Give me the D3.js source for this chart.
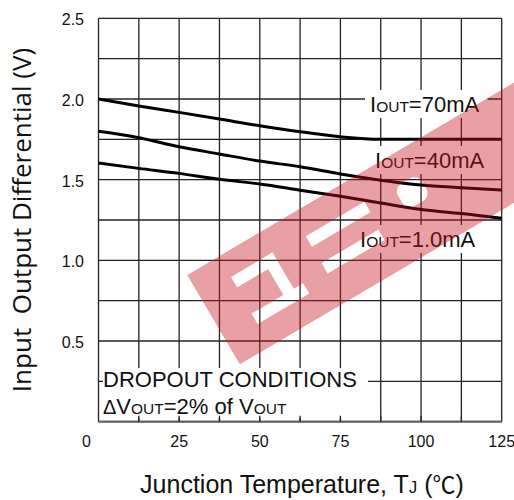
<!doctype html>
<html>
<head>
<meta charset="utf-8">
<script src="https://d3js.org/d3.v7.min.js"></script>
<style>
  body { margin: 0; background: #fff; }
  text { font-family: "Liberation Sans", Arial, sans-serif; fill: #111; }
</style>
</head>
<body>
<svg width="514" height="500"></svg>
<script>
// junction temperature (deg C) and dropout voltage (V) for each load current
var temps = [0, 12.5, 25, 37.5, 50, 62.5, 75, 87.5, 100, 112.5, 125];
var v70mA = [2.0, 1.957, 1.917, 1.876, 1.834, 1.797, 1.766, 1.75, 1.75, 1.75, 1.75];
var v40mA = [1.80, 1.76, 1.704, 1.659, 1.615, 1.58, 1.535, 1.497, 1.467, 1.45, 1.435];
var v1mA  = [1.603, 1.57, 1.539, 1.502, 1.473, 1.435, 1.397, 1.355, 1.315, 1.29, 1.26];

var seriesNames = ["70mA", "40mA", "1.0mA"];
var xTicks = [0, 25, 50, 75, 100, 125];
var yTicks = [0.5, 1.0, 1.5, 2.0, 2.5];

var svg = d3.select("svg");

var x = d3.scaleLinear().domain([0, 125]).range([98.5, 501.7]);
var y = d3.scaleLinear().domain([0, 2.5]).range([421.7, 18.3]);

// grid every 12.5 C and 0.25 V
var gridX = d3.range(0, 125.01, 12.5);
var gridY = d3.range(0, 2.501, 0.25);

var grid = svg.append("g").attr("stroke", "#222").attr("stroke-width", 1.3);
grid.selectAll(".gx").data(gridX).enter().append("line")
    .attr("x1", function(d) { return x(d); }).attr("x2", function(d) { return x(d); })
    .attr("y1", y(0)).attr("y2", y(2.5));
grid.selectAll(".gy").data(gridY).enter().append("line")
    .attr("y1", function(d) { return y(d); }).attr("y2", function(d) { return y(d); })
    .attr("x1", x(0)).attr("x2", x(125));

svg.append("line").attr("x1", x(0)).attr("x2", x(125)).attr("y1", y(0)).attr("y2", y(0))
   .attr("stroke", "#666").attr("stroke-width", 2.2);

// curves
var line = d3.line()
    .x(function(d) { return x(d[0]); })
    .y(function(d) { return y(d[1]); })
    .curve(d3.curveMonotoneX);

[v70mA, v40mA, v1mA].forEach(function(vals) {
  svg.append("path")
     .datum(temps.map(function(t, i) { return [t, vals[i]]; }))
     .attr("fill", "none").attr("stroke", "#000").attr("stroke-width", 3)
     .attr("d", line);
});

// labels with white backing
function boxedLabel(parts, px, py, pad) {
  var g = svg.append("g");
  var rect = g.append("rect").attr("fill", "#fff");
  var t = g.append("text").attr("x", px).attr("y", py);
  parts.forEach(function(p) {
    t.append("tspan").attr("font-size", p[1]).text(p[0]);
  });
  var b = t.node().getBBox();
  rect.attr("x", b.x - pad[0]).attr("y", b.y - pad[1])
      .attr("width", b.width + pad[0] + pad[2]).attr("height", b.height + pad[1] + pad[3]);
  return g;
}

var labelPos = [[370, 112], [375, 168], [360, 247]];
seriesNames.forEach(function(n, i) {
  boxedLabel([["I", 22], ["OUT", 15.5], ["=" + n, 22]], labelPos[i][0], labelPos[i][1], [5, 2, 8, 1]);
});

// dropout conditions note
svg.append("rect").attr("x", 103).attr("y", 368).attr("width", 265).attr("height", 50).attr("fill", "#fff");
svg.append("g").attr("stroke", "#222").attr("stroke-width", 1.3)
   .selectAll("line").data(gridX.slice(1, 10)).enter().append("line")
   .attr("x1", function(d) { return x(d); }).attr("x2", function(d) { return x(d); })
   .attr("y1", y(0) - 6).attr("y2", y(0));

svg.append("text").attr("x", 103).attr("y", 387).attr("font-size", 22).text("DROPOUT CONDITIONS");
var note2 = svg.append("text").attr("x", 103).attr("y", 413.5);
[["\u0394", 20], ["V", 22], ["OUT", 15.5], ["=2% of V", 22], ["OUT", 15.5]].forEach(function(p) {
  note2.append("tspan").attr("font-size", p[1]).text(p[0]);
});

// tick labels
svg.selectAll(".xt").data(xTicks).enter().append("text")
   .attr("x", function(d) { return d === 0 ? x(d) - 12 : x(d); })
   .attr("y", 447).attr("text-anchor", "middle").attr("font-size", 16)
   .text(function(d) { return d; });
svg.selectAll(".yt").data(yTicks).enter().append("text")
   .attr("x", 84).attr("y", function(d) { return y(d) + 7; })
   .attr("text-anchor", "end").attr("font-size", 16)
   .text(function(d) { return d.toFixed(1); });

// axis titles
var xt = svg.append("text").attr("x", 302).attr("y", 493).attr("text-anchor", "middle").attr("font-size", 25);
xt.append("tspan").text("Junction Temperature, T");
xt.append("tspan").attr("font-size", 17).text("J");
xt.append("tspan").text(" (");
xt.append("tspan").attr("font-family", "Noto Sans CJK SC").attr("font-size", 23).text("\u2103");
xt.append("tspan").text(")");

svg.append("text")
   .attr("transform", "translate(31,220) rotate(-90)")
   .attr("text-anchor", "middle")
   .style("font-family", "'Open Sans', 'Noto Sans', sans-serif")
   .attr("font-size", 26)
   .style("white-space", "pre")
   .text("Input  Output Differential (V)");

// watermark overlay (rotated band with letter cut-outs)
var defs = svg.append("defs");
var mask = defs.append("mask").attr("id", "wm").attr("maskUnits", "userSpaceOnUse")
   .attr("x", -100).attr("y", -100).attr("width", 700).attr("height", 400);
mask.append("rect").attr("x", 0).attr("y", 0).attr("width", 460).attr("height", 104).attr("fill", "#fff");
var holes = [
  [37, 24, 48, 12], [73, 24, 12, 54], [36, 66, 60, 12],
  [122, 27, 68, 12], [122, 58, 66, 12]
];
holes.forEach(function(h) {
  mask.append("rect").attr("x", h[0]).attr("y", h[1]).attr("width", h[2]).attr("height", h[3]).attr("fill", "#000");
});
mask.append("rect").attr("x", 222).attr("y", 30).attr("width", 28).attr("height", 26).attr("rx", 9).attr("fill", "#000");

svg.append("g").attr("transform", "translate(187,275) rotate(-30.5)")
   .append("rect").attr("x", 0).attr("y", 0).attr("width", 460).attr("height", 104)
   .attr("fill", "#c8141e").attr("opacity", 0.4).attr("mask", "url(#wm)");
</script>
</body>
</html>
